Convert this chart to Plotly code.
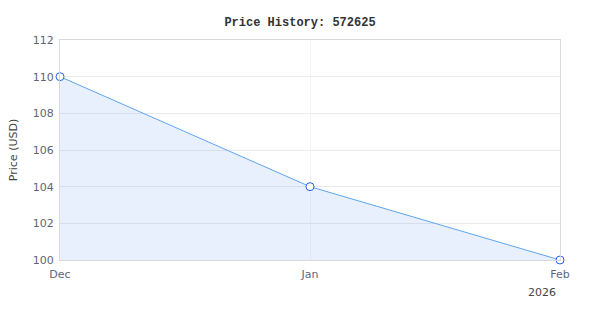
import plotly.graph_objects as go

dates = ["2025-12-01", "2026-01-01", "2026-02-01"]
prices = [110, 104, 100]
tick_labels = ["Dec", "Jan", "Feb"]
year_label = "2026"
title_text = "Price History: 572625"
y_title = "Price (USD)"

fig = go.Figure()
fig.add_trace(go.Scatter(
    x=dates, y=prices, mode="lines+markers",
    line=dict(color="#5ea5f0", width=1),
    fill="tozeroy", fillcolor="rgba(90,150,245,0.14)",
    marker=dict(symbol="circle", size=8, color="white",
                line=dict(color="#1f63e8", width=1)),
    cliponaxis=False,
    hoverinfo="x+y", showlegend=False,
))
fig.update_layout(
    width=600, height=320,
    margin=dict(l=60, r=40, t=40, b=60),
    paper_bgcolor="white", plot_bgcolor="white",
    title=dict(text="<b>" + title_text + "</b>", x=0.5, xanchor="center", y=0.945,
               font=dict(family="Liberation Mono, Courier New, monospace", size=12, color="#333")),
    font=dict(family="DejaVu Sans, sans-serif", size=11, color="#5f6577"),
)
fig.update_xaxes(
    range=[dates[0], dates[-1]],
    tickmode="array", tickvals=dates, ticktext=tick_labels,
    ticks="outside", ticklen=4, tickcolor="rgba(0,0,0,0)",
    showgrid=True, gridcolor="#f2f5f9", gridwidth=1,
    showline=True, linecolor="#d9d9d9", mirror=True,
    zeroline=False, tickfont=dict(size=11, color="#5f6577"),
)
fig.update_yaxes(
    range=[100, 112], dtick=2,
    ticks="outside", ticklen=3, tickcolor="rgba(0,0,0,0)",
    showgrid=True, gridcolor="#ebebeb",
    showline=True, linecolor="#d9d9d9", mirror=True,
    zeroline=False, title=dict(text=y_title, font=dict(size=11, color="#444"), standoff=12),
    tickfont=dict(size=11, color="#5f6577"),
)
fig.add_annotation(
    x=dates[-1], y=0, xref="x", yref="paper", text=year_label,
    showarrow=False, xanchor="right", yanchor="top", yshift=-24, xshift=-2,
    font=dict(size=11, color="#444"),
)
fig.write_html("out.html")
